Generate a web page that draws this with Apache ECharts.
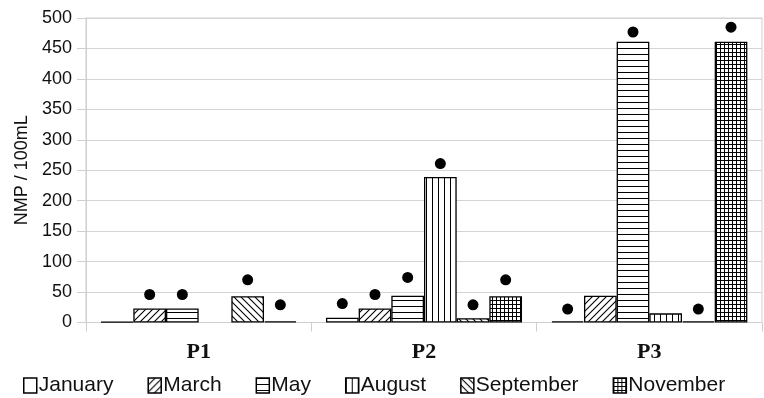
<!DOCTYPE html>
<html>
<head>
<meta charset="utf-8">
<script src="https://cdn.jsdelivr.net/npm/echarts@6/dist/echarts.min.js"></script>
<style>html,body{margin:0;padding:0;background:#fff}#c{width:764px;height:398px}</style>
</head>
<body>
<div id="c"></div>
<script>
var categories = ['P1', 'P2', 'P3'];
var months = ['January', 'March', 'May', 'August', 'September', 'November'];
var barJanuary   = [1, 8, 2];
var barMarch     = [23, 23, 44];
var barMay       = [23, 44, 461];
var barAugust    = [null, 239, 15];
var barSeptember = [43, 7, 2];
var barNovember  = [2, 43, 461];
var dotJanuary   = [null, 31, 22];
var dotMarch     = [46, 46, null];
var dotMay       = [46, 74, 477];
var dotAugust    = [null, 261, null];
var dotSeptember = [70, 29, 22];
var dotNovember  = [29, 70, 485];
var yTicks = { min: 0, max: 500, interval: 50 };

var barData = [barJanuary, barMarch, barMay, barAugust, barSeptember, barNovember];
var dotData = [dotJanuary, dotMarch, dotMay, dotAugust, dotSeptember, dotNovember];

function pat(kind) {
  var s = kind === 'grid' ? 4 : (kind === 'fwd' || kind === 'back') ? 7 : 6;
  var c = document.createElement('canvas');
  c.width = s; c.height = s;
  var g = c.getContext('2d');
  g.fillStyle = '#fff'; g.fillRect(0, 0, s, s);
  g.fillStyle = '#000'; g.strokeStyle = '#000'; g.lineWidth = 1.1;
  if (kind === 'h') g.fillRect(0, 0, s, 1);
  else if (kind === 'v') g.fillRect(0, 0, 1, s);
  else if (kind === 'grid') { g.fillRect(0, 0, s, 1); g.fillRect(0, 0, 1, s); }
  else if (kind === 'fwd') {
    g.beginPath();
    g.moveTo(0, s); g.lineTo(s, 0);
    g.moveTo(-1, 1); g.lineTo(1, -1);
    g.moveTo(s - 1, s + 1); g.lineTo(s + 1, s - 1);
    g.stroke();
  } else if (kind === 'back') {
    g.beginPath();
    g.moveTo(0, 0); g.lineTo(s, s);
    g.moveTo(s - 1, -1); g.lineTo(s + 1, 1);
    g.moveTo(-1, s - 1); g.lineTo(1, s + 1);
    g.stroke();
  }
  if (kind === 'none') return '#fff';
  return { type: 'pattern', image: c, repeat: 'repeat' };
}
var fills = [pat('none'), pat('fwd'), pat('h'), pat('v'), pat('back'), pat('grid')];

var series = [];
months.forEach(function (m, i) {
  series.push({
    name: m, type: 'bar', data: barData[i],
    barGap: '0%', barCategoryGap: '13%',
    itemStyle: { color: fills[i], borderColor: '#000', borderWidth: 1.3 },
    z: 2
  });
});
months.forEach(function (m, i) {
  series.push({
    name: m + ' dot', type: 'pictorialBar', data: dotData[i],
    barGap: '0%', barCategoryGap: '13%',
    symbol: 'circle', symbolSize: [11, 11], symbolPosition: 'end',
    symbolOffset: [0, '-50%'],
    itemStyle: { color: '#000' }, z: 5
  });
});

var chart = echarts.init(document.getElementById('c'), null, { renderer: 'canvas' });
chart.setOption({
  animation: false,
  backgroundColor: '#fff',
  grid: { left: 86, right: 2, top: 18, bottom: 75.5, show: true, borderColor: '#cfcfcf', borderWidth: 1 },
  legend: {
    data: months, left: 23, top: 375, padding: 0, itemWidth: 13, itemHeight: 15, itemGap: 34,
    icon: 'rect',
    itemStyle: { borderColor: '#000', borderWidth: 1.5 },
    textStyle: { fontFamily: 'Liberation Sans', fontSize: 21, color: '#111', padding: [0, 0, 0, -3] }
  },
  xAxis: {
    type: 'category', data: categories,
    axisLine: { lineStyle: { color: '#cfcfcf', width: 1 } },
    axisTick: { show: true, length: 9, lineStyle: { color: '#cfcfcf' } },
    axisLabel: { fontFamily: 'Liberation Serif', fontWeight: 'bold', fontSize: 22, color: '#111', margin: 19 }
  },
  yAxis: {
    type: 'value', min: yTicks.min, max: yTicks.max, interval: yTicks.interval,
    name: 'NMP / 100mL', nameLocation: 'middle', nameGap: 54,
    nameTextStyle: { fontFamily: 'Liberation Sans', fontSize: 18, color: '#111' },
    axisLine: { show: true, lineStyle: { color: '#cfcfcf', width: 1 } },
    axisTick: { show: true, length: 9, lineStyle: { color: '#cfcfcf' } },
    axisLabel: { fontFamily: 'Liberation Sans', fontSize: 18, color: '#111', margin: 14 },
    splitLine: { lineStyle: { color: '#d4d4d4', width: 1.2 } }
  },
  series: series
});
</script>
</body>
</html>
